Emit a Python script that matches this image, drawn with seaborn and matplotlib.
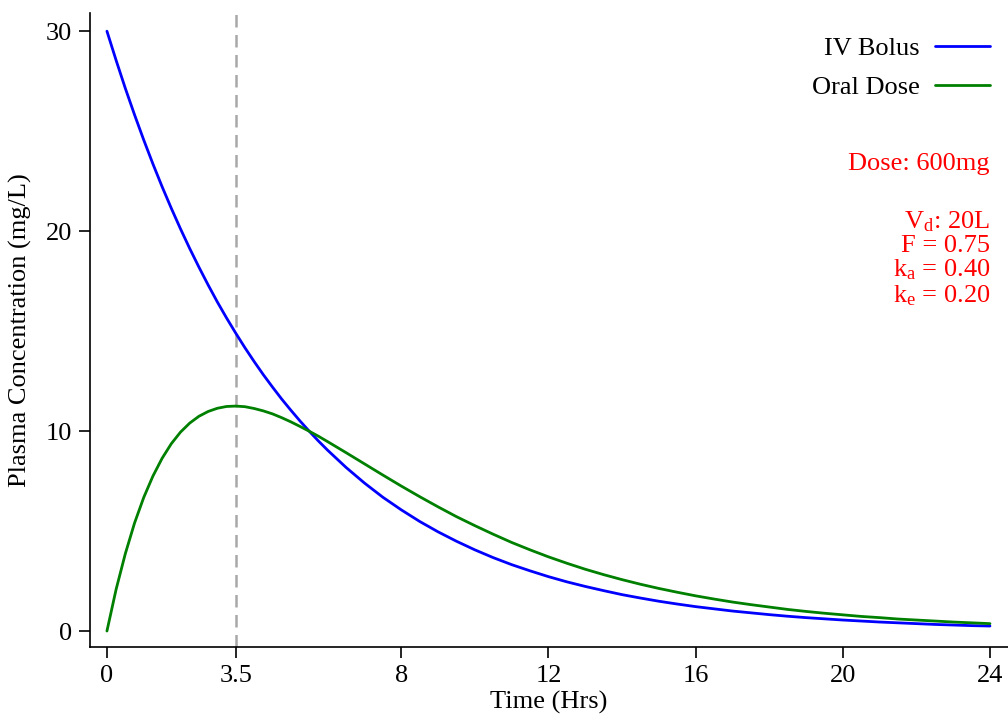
import numpy as np
import pandas as pd
import matplotlib
matplotlib.use("Agg")
import matplotlib.pyplot as plt
import seaborn as sns

# Time points (hours)
time_hrs = [0, 0.25, 0.5, 0.75, 1, 1.25, 1.5, 1.75, 2, 2.25, 2.5, 2.75, 3, 3.25,
            3.5, 3.75, 4, 4.25, 4.5, 4.75, 5, 5.25, 5.5, 5.75, 6,
            6.5, 7, 7.5, 8, 8.5, 9, 9.5, 10, 10.5, 11, 11.5, 12, 12.5, 13, 13.5,
            14, 14.5, 15, 15.5, 16, 16.5, 17, 17.5, 18, 18.5, 19, 19.5, 20,
            20.5, 21, 21.5, 22, 22.5, 23, 23.5, 24]

iv_bolus = [30.00, 28.54, 27.14, 25.82, 24.56, 23.36, 22.22, 21.14, 20.11, 19.13,
            18.20, 17.31, 16.46, 15.66, 14.90, 14.17, 13.48, 12.82, 12.20, 11.60,
            11.04, 10.50, 9.99, 9.50, 9.04,
            8.18, 7.40, 6.69, 6.06, 5.48, 4.96, 4.49, 4.06, 3.67, 3.32, 3.01,
            2.72, 2.46, 2.23, 2.02, 1.82, 1.65, 1.49, 1.35, 1.22, 1.11, 1.00,
            0.91, 0.82, 0.74, 0.67, 0.61, 0.55, 0.50, 0.45, 0.41, 0.37, 0.33,
            0.30, 0.27, 0.25]

oral_dose = [0.00, 2.09, 3.87, 5.40, 6.68, 7.75, 8.64, 9.37, 9.95, 10.40,
             10.74, 10.98, 11.14, 11.23, 11.25, 11.22, 11.13, 11.01, 10.86, 10.67,
             10.46, 10.23, 9.99, 9.74, 9.47,
             8.92, 8.36, 7.80, 7.25, 6.72, 6.21, 5.72, 5.27, 4.84, 4.43, 4.06,
             3.71, 3.39, 3.09, 2.82, 2.57, 2.34, 2.13, 1.94, 1.76, 1.60, 1.45,
             1.32, 1.20, 1.08, 0.98, 0.89, 0.81, 0.73, 0.67, 0.60, 0.55, 0.50,
             0.45, 0.41, 0.37]

series_names = ["IV Bolus", "Oral Dose"]
series_colors = ["#0000ff", "#008000"]
x_ticks = [0, 3.5, 8, 12, 16, 20, 24]
x_tick_labels = ["0", "3.5", "8", "12", "16", "20", "24"]
y_ticks = [0, 10, 20, 30]
tmax = 3.5

dose_text = "Dose: 600mg"
param_text = "V$_\\mathrm{d}$: 20L\nF = 0.75\nk$_\\mathrm{a}$ = 0.40\nk$_\\mathrm{e}$ = 0.20"

df = pd.DataFrame({
    "Time": time_hrs * 2,
    "Conc": iv_bolus + oral_dose,
    "Route": [series_names[0]] * len(time_hrs) + [series_names[1]] * len(time_hrs),
})

sns.set_theme(style="ticks")
plt.rcParams["font.family"] = ["Liberation Serif", "DejaVu Serif"]
plt.rcParams["mathtext.fontset"] = "custom"
plt.rcParams["mathtext.rm"] = "Liberation Serif"
plt.rcParams["mathtext.it"] = "Liberation Serif:italic"
plt.rcParams["text.color"] = "black"
plt.rcParams["axes.labelcolor"] = "black"

fig = plt.figure(figsize=(10.08, 7.17), dpi=100)
ax = fig.add_axes([0.0893, 0.0976, 0.9107, 0.884])

ax.axvline(tmax, color="#a8a8a8", linestyle=(0, (5, 3)), linewidth=1.8, zorder=1)

sns.lineplot(data=df, x="Time", y="Conc", hue="Route",
             palette=dict(zip(series_names, series_colors)),
             linewidth=2, ax=ax, zorder=3)

ax.set_xlim(-0.46, 24.49)
ax.set_ylim(-0.8, 30.9)
ax.set_xticks(x_ticks)
ax.set_xticklabels(x_tick_labels)
ax.set_yticks(y_ticks)
ax.tick_params(axis="both", labelsize=19, length=8, width=1.2, pad=5,
               direction="out", colors="black")
for s in ["top", "right"]:
    ax.spines[s].set_visible(False)
for s in ["left", "bottom"]:
    ax.spines[s].set_linewidth(1.2)
    ax.spines[s].set_color("black")

ax.set_xlabel("Time (Hrs)", fontsize=19, labelpad=3)
ax.set_ylabel("Plasma Concentration (mg/L)", fontsize=19, labelpad=10)

leg = ax.legend(loc="upper right", bbox_to_anchor=(1.0065, 1.0), frameon=False, fontsize=19,
                markerfirst=False, handlelength=2.1, handletextpad=0.57, labelspacing=0.58)

ax.text(24.0, 23.35, dose_text, color="red", fontsize=19, ha="right", va="center")
ax.text(24.0, 21.1, param_text, color="red", fontsize=19, ha="right", va="top", linespacing=1.05)

fig.savefig("out.png", dpi=100)
